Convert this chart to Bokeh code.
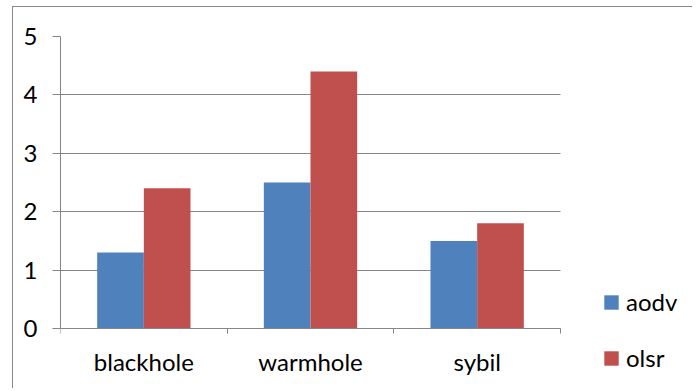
from bokeh.plotting import figure
from bokeh.models import FixedTicker, Legend, LegendItem, ColumnDataSource
from bokeh.embed import file_html
from bokeh.resources import INLINE

categories = ["blackhole", "warmhole", "sybil"]
aodv = [1.3, 2.5, 1.5]
olsr = [2.4, 4.4, 1.8]
y_ticks = [0, 1, 2, 3, 4, 5]

FONT = "Lato"
GRID = "#868686"
FS = "24px"

n = len(categories)
centers = [i + 0.5 for i in range(n)]
src = ColumnDataSource(dict(
    xa=[c - 0.14 for c in centers],
    xo=[c + 0.14 for c in centers],
    aodv=aodv, olsr=olsr,
))

# frame extends to the right/below so the legend (drawn inside the frame) is not clipped
p = figure(width=680, height=382, output_backend="svg", toolbar_location=None,
           x_range=(0, 3.798), y_range=(-1.045, 5),
           min_border_left=47, min_border_right=0, min_border_top=29, min_border_bottom=0)
p.margin = (6, 0, 0, 12)
p.styles = {"border-left": "1px solid #898989", "border-top": "1px solid #898989"}
p.outline_line_color = None

ra = p.vbar(x="xa", top="aodv", width=0.28, source=src, fill_color="#4F81BD", line_color=None)
ro = p.vbar(x="xo", top="olsr", width=0.28, source=src, fill_color="#C0504D", line_color=None)

xa = p.xaxis[0]
xa.fixed_location = 0
xa.bounds = (0, n)
xa.ticker = FixedTicker(ticks=centers, minor_ticks=list(range(n + 1)))
xa.major_label_overrides = {c: s for c, s in zip(centers, categories)}
xa.major_tick_line_color = None
xa.major_tick_in = 0
xa.major_tick_out = 0
xa.minor_tick_line_color = GRID
xa.minor_tick_in = 0
xa.minor_tick_out = 5
xa.axis_line_color = GRID
xa.major_label_text_font = FONT
xa.major_label_text_font_size = FS
xa.major_label_text_color = "black"
xa.major_label_standoff = 14

ya = p.yaxis[0]
ya.bounds = (0, 5)
ya.ticker = FixedTicker(ticks=y_ticks)
ya.minor_tick_line_color = None
ya.major_tick_line_color = GRID
ya.major_tick_in = 0
ya.major_tick_out = 8
ya.axis_line_color = GRID
ya.major_label_text_font = FONT
ya.major_label_text_font_size = FS
ya.major_label_text_color = "black"
ya.major_label_standoff = 15

p.xgrid.grid_line_color = None
p.ygrid.ticker = FixedTicker(ticks=y_ticks)
p.ygrid.grid_line_color = GRID
p.ygrid.cross_bounds = (0, n)

legend = Legend(items=[LegendItem(label="aodv", renderers=[ra]),
                       LegendItem(label="olsr", renderers=[ro])],
                location=(542, 17))
legend.border_line_color = None
legend.background_fill_alpha = 0
legend.padding = 0
legend.margin = 0
legend.glyph_width = 18
legend.glyph_height = 18
legend.label_height = 14
legend.spacing = 27
legend.label_standoff = 6
legend.label_text_font = FONT
legend.label_text_font_size = FS
legend.label_text_color = "black"
p.add_layout(legend)

open("out.html", "w").write(file_html(p, INLINE))
